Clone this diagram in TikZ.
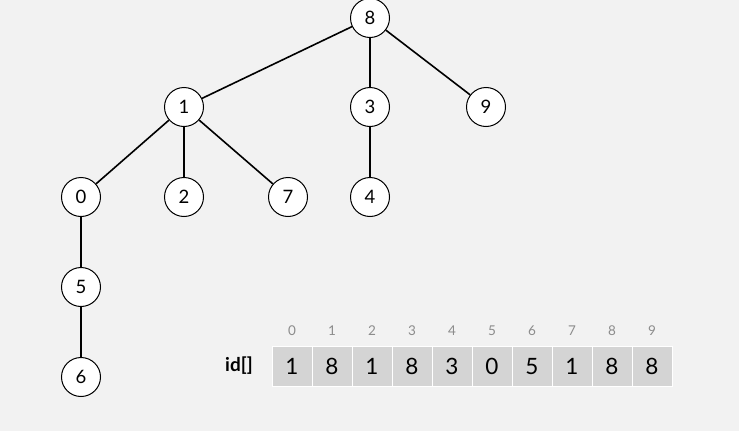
\documentclass[tikz,border=0pt]{standalone}
\usepackage{fontspec}
\setmainfont{Lato}
\begin{document}
\begin{tikzpicture}[x=1pt,y=-1pt,
  vtx/.style={circle,draw=black,fill=white,line width=1pt,minimum size=39pt,inner sep=0pt,font=\fontsize{18.5}{18.5}\selectfont},
  edge/.style={line width=1.6pt},
  cell/.style={rectangle,fill=black!17,draw=white,line width=1pt,minimum width=40pt,minimum height=40pt,inner sep=0pt,font=\fontsize{22.5}{22.5}\selectfont},
  idx/.style={text=black!45,font=\fontsize{13.5}{13.5}\selectfont}]
\fill[black!5] (0,0) rectangle (739,431);
\useasboundingbox (0,0) rectangle (739,431);
\node[vtx] (n8) at (370,18) {8};
\node[vtx] (n1) at (184,107) {1};
\node[vtx] (n3) at (370,107) {3};
\node[vtx] (n9) at (486,107) {9};
\node[vtx] (n0) at (81,197) {0};
\node[vtx] (n2) at (184,197) {2};
\node[vtx] (n7) at (288,197) {7};
\node[vtx] (n4) at (370,197) {4};
\node[vtx] (n5) at (81,287) {5};
\node[vtx] (n6) at (81,377) {6};
\draw[edge] (n8) -- (n1);
\draw[edge] (n8) -- (n3);
\draw[edge] (n8) -- (n9);
\draw[edge] (n1) -- (n0);
\draw[edge] (n1) -- (n2);
\draw[edge] (n1) -- (n7);
\draw[edge] (n3) -- (n4);
\draw[edge] (n0) -- (n5);
\draw[edge] (n5) -- (n6);
\node[font=\bfseries\fontsize{19}{19}\selectfont] (lbl) at (239,366) {id[]};
\foreach \i/\v in {0/1,1/8,2/1,3/8,4/3,5/0,6/5,7/1,8/8,9/8}{
  \node[cell] (c\i) at ({292+40*\i},366.5) {\v};
  \node[idx] (i\i) at ({292+40*\i},331) {\i};
}
\end{tikzpicture}
\end{document}
